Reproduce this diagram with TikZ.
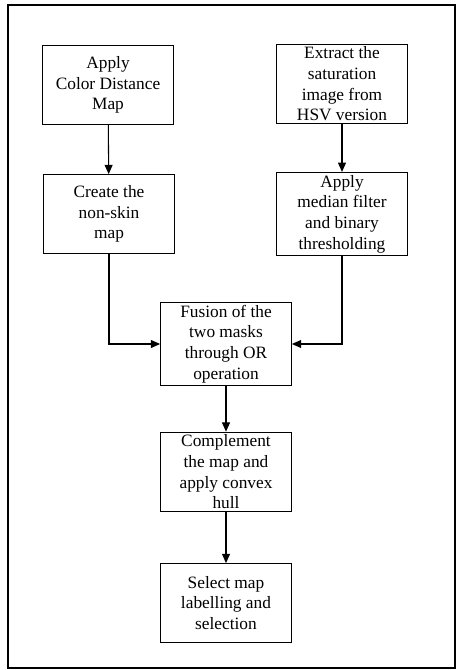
\documentclass[tikz,border=0pt]{standalone}
\usepackage{fontspec}
\setmainfont{Liberation Serif}
\usetikzlibrary{arrows.meta}

\tikzset{
	stagebox/.style={draw, line width=0.8pt, minimum width=98pt, minimum height=59pt, inner sep=2pt, align=center, font=\fontsize{13}{15.5}\selectfont},
	flowarrow/.style={draw, line width=0.8pt, -{Triangle[length=7pt,width=6pt]}}
}

\begin{document}
\begin{tikzpicture}[x=0.75pt,y=0.75pt,yscale=-1,xscale=1]
	\useasboundingbox (0,0) rectangle (456,670);
	\draw [line width=1.4pt] (8,5) rectangle (455,668);
	% first row
	\node [stagebox] (colordist) at (108,85) {Apply\\Color Distance\\Map};
	\node [stagebox] (saturation) at (342,84) {Extract the\\saturation\\image from\\HSV version};
	% second row
	\node [stagebox] (nonskin) at (109,214) {Create the\\non-skin\\map};
	\node [stagebox] (median) at (342,214) {Apply\\median filter\\and binary\\thresholding};
	% merged column
	\node [stagebox] (fusion) at (226,344) {Fusion of the\\two masks\\through OR\\operation};
	\node [stagebox] (convex) at (226,472) {Complement\\the map and\\apply convex\\hull};
	\node [stagebox] (labelling) at (226,603) {Select map\\labelling and\\selection};
	\draw [flowarrow] (colordist) -- (nonskin);
	\draw [flowarrow] (saturation) -- (median);
	\draw [flowarrow] (nonskin.south) |- (fusion.west);
	\draw [flowarrow] (median.south) |- (fusion.east);
	\draw [flowarrow] (fusion) -- (convex);
	\draw [flowarrow] (convex) -- (labelling);
\end{tikzpicture}
\end{document}
